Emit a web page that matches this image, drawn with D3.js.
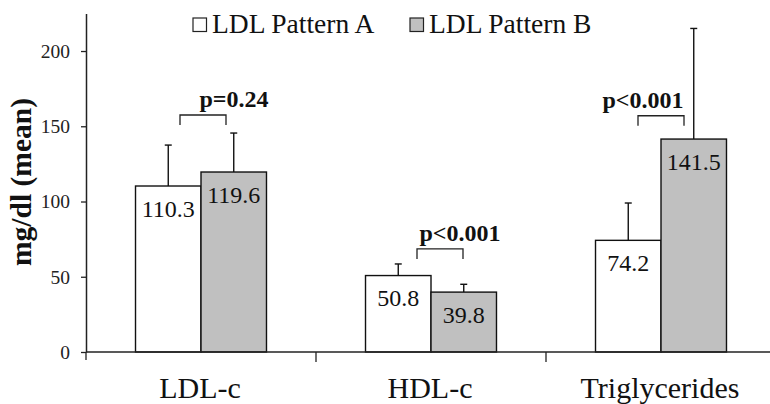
<!DOCTYPE html>
<html>
<head>
<meta charset="utf-8">
<script src="https://cdn.jsdelivr.net/npm/d3@7"></script>
<style>
  body { margin: 0; padding: 0; background: #fff; overflow: hidden; }
</style>
</head>
<body>
<script>
// data
const categories = ["LDL-c", "HDL-c", "Triglycerides"];
const seriesNames = ["LDL Pattern A", "LDL Pattern B"];
const patternA = [110.3, 50.8, 74.2];
const patternB = [119.6, 39.8, 141.5];
const errTopA = [137.5, 58.5, 99];
const errTopB = [145.5, 45, 215];
const pTexts = ["p=0.24", "p<0.001", "p<0.001"];
const pLevels = [157.5, 68.5, 157];
const yTicks = [0, 50, 100, 150, 200];

const W = 770, H = 404;
const fills = ["#ffffff", "#c0c0c0"];
const SERIF = "'Times New Roman', Times, Tinos, 'Liberation Serif', 'DejaVu Serif', serif";

const svg = d3.select("body").append("svg").attr("width", W).attr("height", H)
  .attr("font-family", SERIF);

const y = d3.scaleLinear().domain([0, 225]).range([352, 13.4]);
const x0 = d3.scaleBand().domain(categories).range([86, 776]).padding(0);
const x1 = d3.scaleBand().domain(seriesNames).range([0, x0.bandwidth()]).paddingInner(0).paddingOuter(0.756);

const rows = categories.map((c, i) => ({
  cat: c,
  bars: [
    {s: seriesNames[0], v: patternA[i], e: errTopA[i]},
    {s: seriesNames[1], v: patternB[i], e: errTopB[i]}
  ],
  p: pTexts[i],
  lvl: pLevels[i]
}));

// bars
const grp = svg.selectAll("g.cat").data(rows).enter().append("g")
  .attr("class", "cat")
  .attr("transform", d => `translate(${x0(d.cat)},0)`);

const bar = grp.selectAll("g.bar").data(d => d.bars).enter().append("g").attr("class", "bar");

// error bars (upper only) drawn first so the bar outline sits on top
bar.append("line")
  .attr("x1", d => x1(d.s) + x1.bandwidth() / 2)
  .attr("x2", d => x1(d.s) + x1.bandwidth() / 2)
  .attr("y1", d => y(d.v))
  .attr("y2", d => y(d.e))
  .attr("stroke", "#111").attr("stroke-width", 1.4);
bar.append("line")
  .attr("x1", d => x1(d.s) + x1.bandwidth() / 2 - 3.5)
  .attr("x2", d => x1(d.s) + x1.bandwidth() / 2 + 3.5)
  .attr("y1", d => y(d.e))
  .attr("y2", d => y(d.e))
  .attr("stroke", "#111").attr("stroke-width", 1.4);

bar.append("rect")
  .attr("x", d => x1(d.s))
  .attr("y", d => y(d.v))
  .attr("width", x1.bandwidth())
  .attr("height", d => y(0) - y(d.v))
  .attr("fill", (d, i) => fills[i])
  .attr("stroke", "#111").attr("stroke-width", 1.4);

bar.append("text")
  .attr("x", d => x1(d.s) + x1.bandwidth() / 2)
  .attr("y", d => y(d.v) + 30.5)
  .attr("text-anchor", "middle")
  .attr("font-size", 24)
  .attr("fill", "#111")
  .text(d => d.v.toFixed(1));

// significance brackets
const bracketDx = [2, 9, 0];
const textDx = [33, 29, -18];
grp.each(function(d, i) {
  const g = d3.select(this);
  const cx = x0.bandwidth() / 2 + bracketDx[i];
  const by = y(d.lvl);
  g.append("path")
    .attr("d", `M${cx - 23},${by + 10}V${by}H${cx + 23}V${by + 10}`)
    .attr("fill", "none").attr("stroke", "#222").attr("stroke-width", 1.3);
  g.append("text")
    .attr("x", x0.bandwidth() / 2 + textDx[i])
    .attr("y", by - 8)
    .attr("text-anchor", "middle")
    .attr("font-size", 24)
    .attr("font-weight", "bold")
    .attr("fill", "#111")
    .text(d.p);
});

// y axis
const yAxis = svg.append("g").attr("transform", "translate(86,0)")
  .call(d3.axisLeft(y).tickValues(yTicks).tickSize(5).tickPadding(11).tickSizeOuter(0));
yAxis.attr("font-family", SERIF).attr("font-size", 19.5);
yAxis.select(".domain").attr("stroke", "#222").attr("stroke-width", 1.5);
yAxis.selectAll(".tick line").attr("stroke", "#222").attr("stroke-width", 1.3);
yAxis.selectAll(".tick text").attr("fill", "#222");

// x axis: baseline with ticks between categories
const xAxis = svg.append("g").attr("transform", `translate(0,${y(0)})`);
xAxis.append("line").attr("x1", 86).attr("x2", W).attr("y1", 0).attr("y2", 0)
  .attr("stroke", "#222").attr("stroke-width", 1.5);
xAxis.selectAll("line.sep").data(categories).enter().append("line")
  .attr("class", "sep")
  .attr("x1", d => x0(d)).attr("x2", d => x0(d))
  .attr("y1", 0).attr("y2", (d, i) => i === 0 ? 8 : 10)
  .attr("stroke", "#222").attr("stroke-width", 1.3);
xAxis.selectAll("text").data(categories).enter().append("text")
  .attr("x", d => x0(d) + x0.bandwidth() / 2 - 1)
  .attr("y", 46)
  .attr("text-anchor", "middle")
  .attr("font-size", 30)
  .attr("fill", "#111")
  .text(d => d);

// y title
svg.append("text")
  .attr("transform", "translate(31,182) rotate(-90)")
  .attr("text-anchor", "middle")
  .attr("font-size", 29.5)
  .attr("font-weight", "bold")
  .attr("fill", "#111")
  .text("mg/dl (mean)");

// legend
const legX = [193, 410];
const leg = svg.selectAll("g.leg").data(seriesNames).enter().append("g")
  .attr("class", "leg")
  .attr("transform", (d, i) => `translate(${legX[i]},18)`);
leg.append("rect").attr("width", 13.5).attr("height", 13.5)
  .attr("fill", (d, i) => fills[i]).attr("stroke", "#222").attr("stroke-width", 1.2);
leg.append("text").attr("x", 19).attr("y", 14.5)
  .attr("font-size", 27.5).attr("fill", "#111")
  .text(d => d);
</script>
</body>
</html>
